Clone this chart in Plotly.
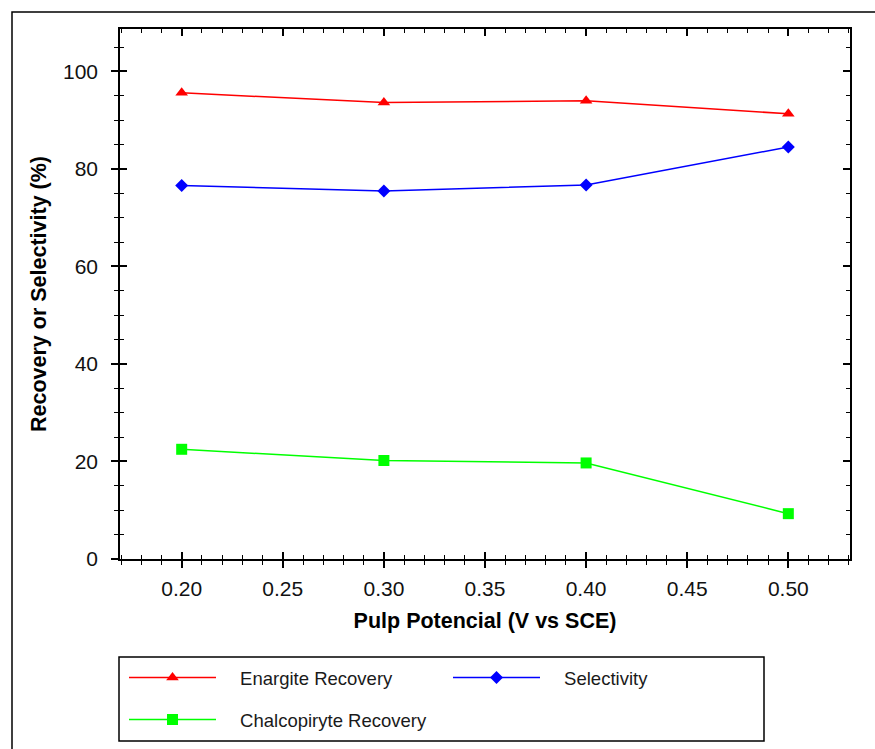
import plotly.graph_objects as go

# Pulp potential (V vs SCE) and measured responses (%)
potential = [0.20, 0.30, 0.40, 0.50]
enargite_recovery = [95.6, 93.6, 94.0, 91.3]
selectivity = [76.6, 75.5, 76.7, 84.5]
chalcopiryte_recovery = [22.5, 20.2, 19.7, 9.3]

x_ticks = [0.20, 0.25, 0.30, 0.35, 0.40, 0.45, 0.50]
y_ticks = [0, 20, 40, 60, 80, 100]

X_RANGE = [0.1695, 0.5305]
Y_RANGE = [0, 108.7]

W, H = 875, 749
M_L, M_R, M_T, M_B = 120, 25, 29, 190
PW, PH = W - M_L - M_R, H - M_T - M_B

FONT = "Arial, Liberation Sans, sans-serif"
PAD = "\u00a0\u00a0\u00a0\u2009"  # gap between legend symbol and label


def px_x(px):
    """pixel column -> paper x"""
    return (px - M_L) / PW


def px_y(py):
    """pixel row -> paper y"""
    return (H - M_B - py) / PH


fig = go.Figure()

# Each series sits on its own overlaid axis pair (identical ranges), so the
# extra axes that carry the inward ticks and the top/right frame get drawn.
fig.add_trace(go.Scatter(
    x=potential, y=chalcopiryte_recovery, name=PAD + "Chalcopiryte Recovery",
    mode="lines+markers", legend="legend2", xaxis="x3", yaxis="y3",
    line=dict(color="#00ff00", width=1.5),
    marker=dict(symbol="square", size=11, color="#00ff00"),
))
fig.add_trace(go.Scatter(
    x=potential, y=selectivity, name=PAD + "Selectivity",
    mode="lines+markers", legend="legend", xaxis="x2", yaxis="y2",
    line=dict(color="#0000ff", width=1.5),
    marker=dict(symbol="diamond", size=10, color="#0000ff"),
))
fig.add_trace(go.Scatter(
    x=potential, y=enargite_recovery, name=PAD + "Enargite Recovery",
    mode="lines+markers", legend="legend", xaxis="x", yaxis="y",
    line=dict(color="#ff0000", width=1.5),
    marker=dict(symbol="triangle-up", size=11, color="#ff0000"),
))

tick_style = dict(tickcolor="black", tickwidth=1.5, showgrid=False, zeroline=False)


def minor(dtick, tick0, direction):
    return dict(dtick=dtick, tick0=tick0, ticks=direction, ticklen=4,
                tickcolor="black", tickwidth=1.2, showgrid=False)


fig.update_layout(
    # bottom axis: labelled, outward ticks
    xaxis=dict(
        range=X_RANGE, tickvals=x_ticks, tickformat=".2f", anchor="y",
        ticks="outside", ticklen=7, showline=True, linecolor="black", linewidth=1.5,
        minor=minor(0.01, 0.20, "outside"),
        tickfont=dict(family=FONT, size=21, color="#111111"),
        ticklabelstandoff=3,
        title=dict(text="Pulp Potencial (V vs SCE)", standoff=14,
                   font=dict(family=FONT, size=21.5, color="black", weight="bold")),
        **tick_style,
    ),
    # inward half of the bottom ticks
    xaxis2=dict(
        range=X_RANGE, tickvals=x_ticks, overlaying="x", anchor="y2", side="bottom",
        ticks="inside", ticklen=7, showline=False, showticklabels=False,
        minor=minor(0.01, 0.20, "inside"),
        **tick_style,
    ),
    # top frame with inward ticks
    xaxis3=dict(
        range=X_RANGE, tickvals=x_ticks, overlaying="x", anchor="y3", side="top",
        ticks="inside", ticklen=7, showline=True, linecolor="black", linewidth=1.5,
        showticklabels=False,
        minor=minor(0.01, 0.20, "inside"),
        **tick_style,
    ),
    yaxis=dict(
        range=Y_RANGE, tickvals=y_ticks, anchor="x",
        ticks="outside", ticklen=7, showline=True, linecolor="black", linewidth=1.5,
        minor=minor(5, 0, "outside"),
        tickfont=dict(family=FONT, size=21, color="#111111"),
        ticklabelstandoff=9,
        title=dict(text="Recovery or Selectivity (%)", standoff=10,
                   font=dict(family=FONT, size=21.5, color="black", weight="bold")),
        **tick_style,
    ),
    yaxis2=dict(
        range=Y_RANGE, tickvals=y_ticks, overlaying="y", anchor="x2", side="left",
        ticks="inside", ticklen=7, showline=False, showticklabels=False,
        minor=minor(5, 0, "inside"),
        **tick_style,
    ),
    yaxis3=dict(
        range=Y_RANGE, tickvals=y_ticks, overlaying="y", anchor="x3", side="right",
        ticks="inside", ticklen=7, showline=True, linecolor="black", linewidth=1.5,
        showticklabels=False,
        minor=minor(5, 0, "inside"),
        **tick_style,
    ),
)

legend_common = dict(
    orientation="h", xref="container", yref="container",
    xanchor="left", yanchor="middle", traceorder="reversed",
    bgcolor="rgba(0,0,0,0)", borderwidth=0,
    font=dict(family=FONT, size=18.5, color="#1a1a1a"),
    itemwidth=87, itemclick=False, itemdoubleclick=False,
)

fig.update_layout(
    legend=dict(x=124 / W, y=1 - 678 / H, entrywidth=222, entrywidthmode="pixels",
                **legend_common),
    legend2=dict(x=124 / W, y=1 - 720 / H, **legend_common),
)

# outer frame and legend box
fig.add_shape(type="rect", xref="paper", yref="paper",
              x0=px_x(12), x1=px_x(890), y0=px_y(12), y1=px_y(770),
              line=dict(color="black", width=1.5), layer="below")
fig.add_shape(type="rect", xref="paper", yref="paper",
              x0=px_x(119), x1=px_x(764), y0=px_y(741), y1=px_y(657),
              line=dict(color="black", width=1.5))

fig.update_layout(
    width=W, height=H, autosize=False,
    margin=dict(l=M_L, r=M_R, t=M_T, b=M_B, pad=0),
    paper_bgcolor="white", plot_bgcolor="white",
    font=dict(family=FONT, color="black"),
    showlegend=True,
)

fig.write_html("out.html")
